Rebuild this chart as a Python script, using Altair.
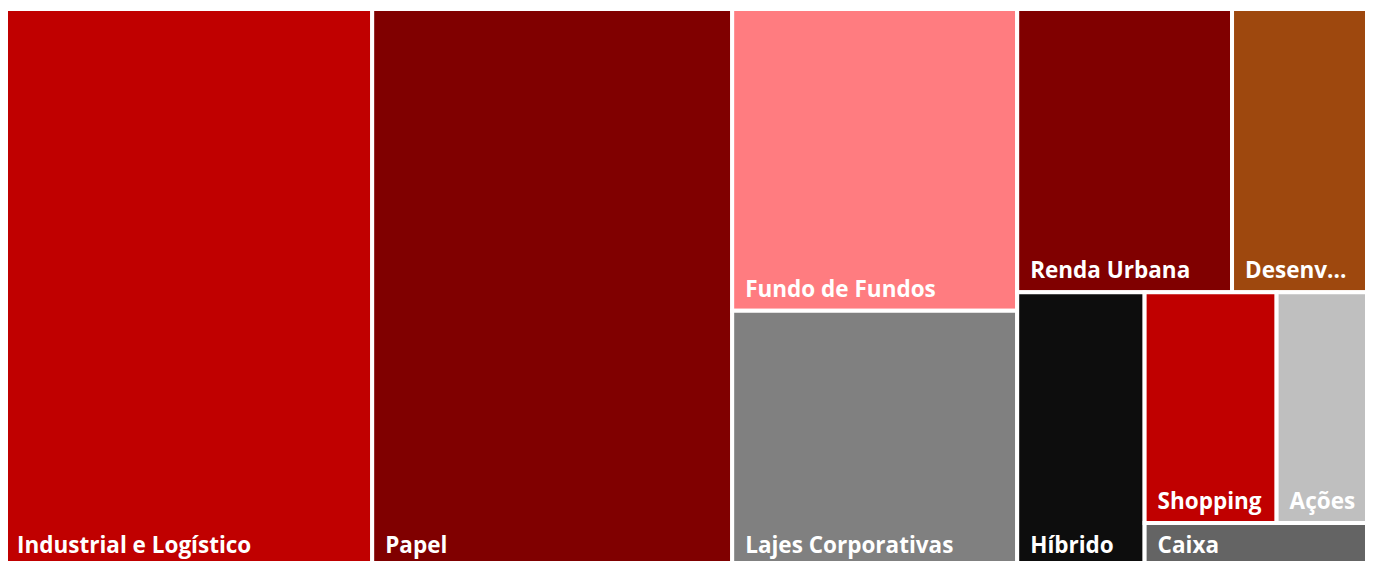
import altair as alt
import pandas as pd

# Category names, portfolio share (%) and colours
names = ["Industrial e Logístico", "Papel", "Fundo de Fundos", "Lajes Corporativas",
         "Renda Urbana", "Desenvolvimento", "Híbrido", "Shopping", "Ações", "Caixa"]
values = [27.0, 26.4, 11.3, 9.6, 8.0, 5.1, 4.6, 4.0, 2.8, 1.3]
colors = ["#C00000", "#800000", "#FF7C80", "#808080", "#800000",
          "#9E480E", "#0D0D0D", "#C00000", "#BFBFBF", "#646464"]

# Treemap nesting (h = side by side, v = stacked); sizes come from the values
layout = ("h", [0, 1, ("v", [2, 3]),
                ("v", [("h", [4, 5]),
                       ("h", [6, ("v", [("h", [7, 8]), 9])])])])


def total(node):
    if isinstance(node, int):
        return values[node]
    return sum(total(c) for c in node[1])


def place(node, x0, y0, x1, y1, out):
    if isinstance(node, int):
        out.append({"name": names[node], "value": values[node],
                    "x0": x0, "y0": y0, "x1": x1, "y1": y1})
        return
    kind, children = node
    t = total(node)
    cur = x0 if kind == "h" else y0
    for c in children:
        frac = total(c) / t
        if kind == "h":
            nxt = cur + (x1 - x0) * frac
            place(c, cur, y0, nxt, y1, out)
        else:
            nxt = cur + (y1 - y0) * frac
            place(c, x0, cur, x1, nxt, out)
        cur = nxt


rows = []
place(layout, 0.0, 0.0, 1.0, 1.0, rows)
df = pd.DataFrame(rows)

xs = alt.Scale(domain=[0, 1], nice=False, zero=False, range=[-4, 1361])
ys = alt.Scale(domain=[0, 1], nice=False, zero=False, range=[1, 559])

base = alt.Chart(df)

rects = base.mark_rect(stroke="white", strokeWidth=4).encode(
    x=alt.X("x0:Q", scale=xs, axis=None),
    x2="x1:Q",
    y=alt.Y("y0:Q", scale=ys, axis=None),
    y2="y1:Q",
    color=alt.Color("name:N", scale=alt.Scale(domain=names, range=colors), legend=None),
    tooltip=["name:N", "value:Q"],
)

text_kw = dict(align="left", baseline="alphabetic", dx=13, dy=-14,
               font="Open Sans", fontWeight="bold", fontSize=22.5, color="white")

labels = base.mark_text(**text_kw).encode(
    x=alt.X("x0:Q", scale=xs, axis=None),
    y=alt.Y("y1:Q", scale=ys, axis=None),
    text="name:N",
).transform_filter(alt.datum.name != "Desenvolvimento")

labels_small = base.mark_text(limit=106, ellipsis="...", **text_kw).encode(
    x=alt.X("x0:Q", scale=xs, axis=None),
    y=alt.Y("y1:Q", scale=ys, axis=None),
    text="name:N",
).transform_filter(alt.datum.name == "Desenvolvimento")

chart = alt.layer(rects, labels, labels_small).properties(
    width=1357, height=553,
    padding=0,
    autosize=alt.AutoSizeParams(type="none"),
    background="white",
).configure_view(strokeWidth=0)

chart.save("out.html", embed_options={"renderer": "svg", "actions": False})
